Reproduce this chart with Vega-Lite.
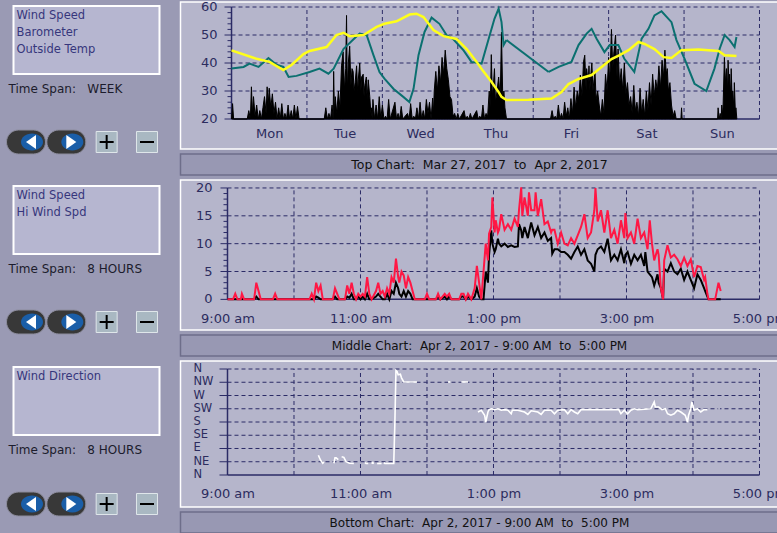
{
"$schema": "https://vega.github.io/schema/vega-lite/v6.json",
"background": "#9a9ab4",
"padding": {"left": 4.5, "top": 0, "right": 0, "bottom": 0},
"config": {
  "view": {"stroke": null},
  "font": "DejaVu Sans",
  "axis": {"labelFont": "DejaVu Sans", "labelColor": "#2c2c5e", "labelFontSize": 13, "title": null, "domain": false, "grid": false, "tickColor": "#2b2b66", "labelFlush": false, "labelOverlap": false, "labelBound": false, "zindex": 1}
},
"datasets": {
"wk_wind": [
{"t":"2017-03-27T00:00","w":20},{"t":"2017-03-27T00:20","w":25.5},{"t":"2017-03-27T00:40","w":20},{"t":"2017-03-27T05:00","w":20},{"t":"2017-03-27T05:30","w":23},{"t":"2017-03-27T06:00","w":20},{"t":"2017-03-27T06:20","w":31.5},{"t":"2017-03-27T06:40","w":22},{"t":"2017-03-27T07:00","w":28},{"t":"2017-03-27T07:30","w":21},{"t":"2017-03-27T08:00","w":25},{"t":"2017-03-27T08:30","w":20},{"t":"2017-03-27T09:00","w":23},{"t":"2017-03-27T09:30","w":20},{"t":"2017-03-27T10:00","w":24},{"t":"2017-03-27T10:30","w":28},{"t":"2017-03-27T11:00","w":22},{"t":"2017-03-27T11:20","w":31.5},{"t":"2017-03-27T11:40","w":25},{"t":"2017-03-27T12:00","w":31},{"t":"2017-03-27T12:30","w":24},{"t":"2017-03-27T13:00","w":29},{"t":"2017-03-27T13:30","w":22},{"t":"2017-03-27T14:00","w":26},{"t":"2017-03-27T14:30","w":20},{"t":"2017-03-27T15:00","w":24},{"t":"2017-03-27T15:30","w":20},{"t":"2017-03-27T16:00","w":25.5},{"t":"2017-03-27T16:30","w":20},{"t":"2017-03-27T17:00","w":22},{"t":"2017-03-27T17:30","w":20},{"t":"2017-03-27T18:00","w":25},{"t":"2017-03-27T18:30","w":20},{"t":"2017-03-27T19:00","w":23},{"t":"2017-03-27T19:30","w":20},{"t":"2017-03-27T20:00","w":25},{"t":"2017-03-27T20:30","w":20},{"t":"2017-03-27T21:00","w":24.5},{"t":"2017-03-27T21:30","w":20},
{"t":"2017-03-28T05:30","w":20},{"t":"2017-03-28T06:00","w":24},{"t":"2017-03-28T06:30","w":20},{"t":"2017-03-28T07:00","w":22},{"t":"2017-03-28T07:30","w":20},{"t":"2017-03-28T08:00","w":25},{"t":"2017-03-28T08:20","w":20},{"t":"2017-03-28T08:30","w":37},{"t":"2017-03-28T08:45","w":22},{"t":"2017-03-28T09:00","w":28},{"t":"2017-03-28T09:30","w":22},{"t":"2017-03-28T10:00","w":30},{"t":"2017-03-28T10:30","w":24},{"t":"2017-03-28T11:00","w":39},{"t":"2017-03-28T11:30","w":44},{"t":"2017-03-28T12:00","w":30},{"t":"2017-03-28T12:20","w":38},{"t":"2017-03-28T12:36","w":57},{"t":"2017-03-28T12:50","w":30},{"t":"2017-03-28T13:10","w":40},{"t":"2017-03-28T13:36","w":46},{"t":"2017-03-28T14:00","w":32},{"t":"2017-03-28T14:20","w":38},{"t":"2017-03-28T14:42","w":37},{"t":"2017-03-28T15:00","w":30},{"t":"2017-03-28T15:20","w":33},{"t":"2017-03-28T15:48","w":39},{"t":"2017-03-28T16:10","w":29},{"t":"2017-03-28T16:20","w":34},{"t":"2017-03-28T16:48","w":40},{"t":"2017-03-28T17:10","w":30},{"t":"2017-03-28T17:24","w":35},{"t":"2017-03-28T17:54","w":36},{"t":"2017-03-28T18:10","w":28},{"t":"2017-03-28T18:24","w":32},{"t":"2017-03-28T18:54","w":35},{"t":"2017-03-28T19:10","w":27},{"t":"2017-03-28T19:30","w":34},{"t":"2017-03-28T20:00","w":28},{"t":"2017-03-28T20:20","w":22},{"t":"2017-03-28T20:30","w":24},{"t":"2017-03-28T20:45","w":20},{"t":"2017-03-28T21:00","w":27},{"t":"2017-03-28T21:30","w":20},{"t":"2017-03-28T22:00","w":25},{"t":"2017-03-28T22:30","w":20},{"t":"2017-03-28T23:00","w":28},{"t":"2017-03-28T23:30","w":20},
{"t":"2017-03-29T00:00","w":25},{"t":"2017-03-29T00:30","w":20},{"t":"2017-03-29T01:00","w":21},{"t":"2017-03-29T01:30","w":20},{"t":"2017-03-29T02:00","w":27},{"t":"2017-03-29T02:30","w":20},{"t":"2017-03-29T04:00","w":26},{"t":"2017-03-29T04:30","w":20},{"t":"2017-03-29T05:00","w":22},{"t":"2017-03-29T05:30","w":20},{"t":"2017-03-29T06:00","w":24.5},{"t":"2017-03-29T06:30","w":20},{"t":"2017-03-29T08:00","w":22},{"t":"2017-03-29T08:30","w":20},{"t":"2017-03-29T09:00","w":25.5},{"t":"2017-03-29T09:30","w":20},{"t":"2017-03-29T10:00","w":21},{"t":"2017-03-29T10:30","w":20},{"t":"2017-03-29T11:00","w":24},{"t":"2017-03-29T11:30","w":20},{"t":"2017-03-29T12:00","w":26},{"t":"2017-03-29T12:30","w":20},{"t":"2017-03-29T13:00","w":23},{"t":"2017-03-29T13:30","w":20},{"t":"2017-03-29T14:00","w":27},{"t":"2017-03-29T14:30","w":22},{"t":"2017-03-29T15:00","w":26},{"t":"2017-03-29T15:30","w":20},{"t":"2017-03-29T16:00","w":27.5},{"t":"2017-03-29T16:15","w":22},{"t":"2017-03-29T16:30","w":30},{"t":"2017-03-29T17:00","w":37},{"t":"2017-03-29T17:30","w":30},{"t":"2017-03-29T18:00","w":39},{"t":"2017-03-29T18:30","w":33},{"t":"2017-03-29T19:00","w":42},{"t":"2017-03-29T19:30","w":36},{"t":"2017-03-29T20:00","w":44.6},{"t":"2017-03-29T20:30","w":38},{"t":"2017-03-29T21:00","w":34},{"t":"2017-03-29T21:30","w":28},{"t":"2017-03-29T22:00","w":27},{"t":"2017-03-29T22:30","w":21},{"t":"2017-03-29T23:00","w":22},{"t":"2017-03-29T23:30","w":20},
{"t":"2017-03-30T00:00","w":22},{"t":"2017-03-30T00:30","w":20},{"t":"2017-03-30T02:00","w":23},{"t":"2017-03-30T02:30","w":20},{"t":"2017-03-30T03:00","w":21},{"t":"2017-03-30T03:30","w":20},{"t":"2017-03-30T04:00","w":22},{"t":"2017-03-30T04:30","w":20},{"t":"2017-03-30T06:00","w":23},{"t":"2017-03-30T06:30","w":20},{"t":"2017-03-30T07:00","w":21},{"t":"2017-03-30T07:30","w":20},{"t":"2017-03-30T08:00","w":25},{"t":"2017-03-30T08:30","w":20},{"t":"2017-03-30T09:00","w":22},{"t":"2017-03-30T09:30","w":21},{"t":"2017-03-30T10:00","w":30},{"t":"2017-03-30T10:20","w":24},{"t":"2017-03-30T10:40","w":43},{"t":"2017-03-30T11:00","w":28},{"t":"2017-03-30T11:20","w":32},{"t":"2017-03-30T11:40","w":38},{"t":"2017-03-30T12:00","w":26},{"t":"2017-03-30T12:30","w":30},{"t":"2017-03-30T13:00","w":35},{"t":"2017-03-30T13:30","w":27},{"t":"2017-03-30T13:54","w":51},{"t":"2017-03-30T14:20","w":26},{"t":"2017-03-30T14:40","w":30},{"t":"2017-03-30T15:00","w":24},{"t":"2017-03-30T15:30","w":20},
{"t":"2017-03-31T05:30","w":20},{"t":"2017-03-31T06:00","w":23},{"t":"2017-03-31T06:30","w":20},{"t":"2017-03-31T07:00","w":21},{"t":"2017-03-31T07:30","w":20},{"t":"2017-03-31T08:00","w":25},{"t":"2017-03-31T08:30","w":20},{"t":"2017-03-31T09:00","w":22},{"t":"2017-03-31T09:30","w":20},{"t":"2017-03-31T10:00","w":26},{"t":"2017-03-31T10:30","w":21},{"t":"2017-03-31T11:00","w":24},{"t":"2017-03-31T11:30","w":20},{"t":"2017-03-31T12:00","w":27.3},{"t":"2017-03-31T12:30","w":22},{"t":"2017-03-31T13:00","w":31.4},{"t":"2017-03-31T13:30","w":24},{"t":"2017-03-31T14:00","w":30},{"t":"2017-03-31T14:30","w":27},{"t":"2017-03-31T15:00","w":35.7},{"t":"2017-03-31T15:30","w":28},{"t":"2017-03-31T16:00","w":40.4},{"t":"2017-03-31T16:24","w":42.8},{"t":"2017-03-31T16:50","w":30},{"t":"2017-03-31T17:00","w":38},{"t":"2017-03-31T17:30","w":33},{"t":"2017-03-31T17:45","w":39},{"t":"2017-03-31T18:00","w":30},{"t":"2017-03-31T18:20","w":36},{"t":"2017-03-31T18:40","w":40},{"t":"2017-03-31T19:00","w":30},{"t":"2017-03-31T19:20","w":34},{"t":"2017-03-31T19:40","w":37},{"t":"2017-03-31T20:00","w":27},{"t":"2017-03-31T20:30","w":30},{"t":"2017-03-31T21:00","w":25},{"t":"2017-03-31T21:30","w":21},{"t":"2017-03-31T22:00","w":27},{"t":"2017-03-31T22:30","w":22},{"t":"2017-03-31T23:00","w":36},{"t":"2017-03-31T23:30","w":30},
{"t":"2017-04-01T00:00","w":42},{"t":"2017-04-01T00:20","w":33},{"t":"2017-04-01T00:54","w":52},{"t":"2017-04-01T01:20","w":38},{"t":"2017-04-01T01:40","w":44},{"t":"2017-04-01T02:12","w":50},{"t":"2017-04-01T02:40","w":35},{"t":"2017-04-01T03:00","w":45},{"t":"2017-04-01T03:30","w":32},{"t":"2017-04-01T04:00","w":38},{"t":"2017-04-01T04:30","w":30},{"t":"2017-04-01T05:00","w":40},{"t":"2017-04-01T05:30","w":29},{"t":"2017-04-01T06:00","w":33},{"t":"2017-04-01T06:30","w":25},{"t":"2017-04-01T07:00","w":28},{"t":"2017-04-01T07:30","w":22},{"t":"2017-04-01T08:00","w":32},{"t":"2017-04-01T08:30","w":23},{"t":"2017-04-01T09:00","w":26},{"t":"2017-04-01T09:30","w":21},{"t":"2017-04-01T10:00","w":31},{"t":"2017-04-01T10:30","w":22},{"t":"2017-04-01T11:00","w":27},{"t":"2017-04-01T11:30","w":21},{"t":"2017-04-01T12:00","w":30},{"t":"2017-04-01T12:30","w":23},{"t":"2017-04-01T13:00","w":33},{"t":"2017-04-01T13:30","w":25},{"t":"2017-04-01T14:00","w":36},{"t":"2017-04-01T14:30","w":28},{"t":"2017-04-01T15:00","w":34},{"t":"2017-04-01T15:30","w":30},{"t":"2017-04-01T16:00","w":39},{"t":"2017-04-01T16:30","w":31},{"t":"2017-04-01T17:00","w":41},{"t":"2017-04-01T17:30","w":35},{"t":"2017-04-01T17:54","w":44.6},{"t":"2017-04-01T18:20","w":36},{"t":"2017-04-01T18:40","w":38},{"t":"2017-04-01T19:00","w":30},{"t":"2017-04-01T19:30","w":33},{"t":"2017-04-01T20:00","w":25},{"t":"2017-04-01T20:30","w":21},{"t":"2017-04-01T21:00","w":23},{"t":"2017-04-01T21:30","w":20},{"t":"2017-04-01T23:00","w":20},{"t":"2017-04-01T23:12","w":24},{"t":"2017-04-01T23:24","w":20},
{"t":"2017-04-02T10:40","w":20},{"t":"2017-04-02T10:50","w":24},{"t":"2017-04-02T11:10","w":20},{"t":"2017-04-02T11:30","w":22},{"t":"2017-04-02T11:50","w":20},{"t":"2017-04-02T12:00","w":25},{"t":"2017-04-02T12:20","w":21},{"t":"2017-04-02T12:50","w":42},{"t":"2017-04-02T13:10","w":33},{"t":"2017-04-02T13:30","w":38},{"t":"2017-04-02T13:50","w":30},{"t":"2017-04-02T14:00","w":41},{"t":"2017-04-02T14:20","w":32},{"t":"2017-04-02T14:30","w":36},{"t":"2017-04-02T14:50","w":28},{"t":"2017-04-02T15:00","w":38},{"t":"2017-04-02T15:20","w":26},{"t":"2017-04-02T15:30","w":30},{"t":"2017-04-02T15:50","w":24},{"t":"2017-04-02T16:00","w":33},{"t":"2017-04-02T16:20","w":22},{"t":"2017-04-02T16:30","w":24},{"t":"2017-04-02T16:48","w":20}
],
"wk_temp": [
{"t":"2017-03-27T00:00","v":44.5},{"t":"2017-03-27T08:00","v":41.5},{"t":"2017-03-27T12:05","v":40.4},{"t":"2017-03-27T16:30","v":37.5},{"t":"2017-03-27T19:05","v":39.3},{"t":"2017-03-27T22:55","v":43.2},{"t":"2017-03-28T00:50","v":44.3},{"t":"2017-03-28T06:15","v":45.7},{"t":"2017-03-28T09:25","v":50},{"t":"2017-03-28T11:40","v":50.8},{"t":"2017-03-28T13:30","v":49.6},{"t":"2017-03-28T18:00","v":50},{"t":"2017-03-28T22:10","v":52.9},{"t":"2017-03-29T00:40","v":54},{"t":"2017-03-29T04:30","v":54.9},{"t":"2017-03-29T08:40","v":57.3},{"t":"2017-03-29T10:50","v":57.6},{"t":"2017-03-29T13:05","v":56.4},{"t":"2017-03-29T16:15","v":51.8},{"t":"2017-03-29T19:30","v":49.6},{"t":"2017-03-29T23:35","v":48.6},{"t":"2017-03-30T02:50","v":45},{"t":"2017-03-30T06:00","v":40.4},{"t":"2017-03-30T07:35","v":37.9},{"t":"2017-03-30T10:45","v":33.2},{"t":"2017-03-30T13:00","v":29.6},{"t":"2017-03-30T13:55","v":27.9},{"t":"2017-03-30T15:30","v":26.8},{"t":"2017-03-30T22:30","v":26.9},{"t":"2017-03-31T05:50","v":27.3},{"t":"2017-03-31T09:00","v":29.6},{"t":"2017-03-31T11:15","v":32.5},{"t":"2017-03-31T14:25","v":34.3},{"t":"2017-03-31T18:35","v":35.7},{"t":"2017-03-31T21:45","v":38.6},{"t":"2017-04-01T00:55","v":41.4},{"t":"2017-04-01T03:30","v":42.8},{"t":"2017-04-01T06:20","v":44.6},{"t":"2017-04-01T09:30","v":47.5},{"t":"2017-04-01T11:25","v":46.8},{"t":"2017-04-01T14:35","v":45},{"t":"2017-04-01T17:30","v":42.1},{"t":"2017-04-01T20:00","v":41.8},{"t":"2017-04-01T23:10","v":44.6},{"t":"2017-04-02T04:35","v":44.8},{"t":"2017-04-02T11:00","v":44.3},{"t":"2017-04-02T12:55","v":42.8},{"t":"2017-04-02T16:40","v":42.5}
],
"wk_baro": [
{"t":"2017-03-27T00:00","v":38,"s":"a"},{"t":"2017-03-27T03:50","v":38.6,"s":"a"},{"t":"2017-03-27T05:45","v":39.8,"s":"a"},{"t":"2017-03-27T08:35","v":38.6,"s":"a"},{"t":"2017-03-27T11:45","v":41.8,"s":"a"},{"t":"2017-03-27T14:20","v":39.4,"s":"a"},{"t":"2017-03-27T16:30","v":38.6,"s":"a"},{"t":"2017-03-27T18:10","v":35,"s":"a"},{"t":"2017-03-27T20:40","v":35.4,"s":"a"},{"t":"2017-03-28T00:50","v":36.8,"s":"a"},{"t":"2017-03-28T04:00","v":38,"s":"a"},{"t":"2017-03-28T06:50","v":36.2,"s":"a"},{"t":"2017-03-28T08:30","v":38,"s":"a"},{"t":"2017-03-28T11:40","v":45.1,"s":"a"},{"t":"2017-03-28T14:50","v":48.5,"s":"a"},{"t":"2017-03-28T16:45","v":50.5,"s":"a"},{"t":"2017-03-28T19:00","v":50,"s":"a"},{"t":"2017-03-28T21:10","v":42.8,"s":"a"},{"t":"2017-03-28T23:05","v":36.8,"s":"a"},{"t":"2017-03-29T00:40","v":34.4,"s":"a"},{"t":"2017-03-29T03:30","v":30.8,"s":"a"},{"t":"2017-03-29T06:40","v":27.9,"s":"a"},{"t":"2017-03-29T08:35","v":26.1,"s":"a"},{"t":"2017-03-29T09:55","v":30.8,"s":"a"},{"t":"2017-03-29T11:30","v":42.8,"s":"a"},{"t":"2017-03-29T13:25","v":51.1,"s":"a"},{"t":"2017-03-29T15:40","v":56.2,"s":"a"},{"t":"2017-03-29T18:10","v":54,"s":"a"},{"t":"2017-03-29T20:25","v":50,"s":"a"},{"t":"2017-03-29T22:35","v":48.5,"s":"a"},{"t":"2017-03-30T01:50","v":44.5,"s":"a"},{"t":"2017-03-30T04:20","v":40.4,"s":"a"},{"t":"2017-03-30T07:35","v":39.8,"s":"a"},{"t":"2017-03-30T09:50","v":48.7,"s":"a"},{"t":"2017-03-30T11:40","v":55.8,"s":"a"},{"t":"2017-03-30T13:00","v":59.4,"s":"a"},{"t":"2017-03-30T13:55","v":54.6,"s":"a"},{"t":"2017-03-30T14:35","v":46.4,"s":"a"},{"t":"2017-03-30T15:30","v":48.2,"s":"a"},
{"t":"2017-03-30T15:30","v":48.2,"s":"gap"},{"t":"2017-03-31T04:55","v":36.8,"s":"gap"},
{"t":"2017-03-31T04:55","v":36.8,"s":"b"},{"t":"2017-03-31T08:05","v":38.6,"s":"b"},{"t":"2017-03-31T12:10","v":40.4,"s":"b"},{"t":"2017-03-31T14:25","v":46.4,"s":"b"},{"t":"2017-03-31T17:00","v":50.5,"s":"b"},{"t":"2017-03-31T18:35","v":52.2,"s":"b"},{"t":"2017-03-31T20:10","v":48.7,"s":"b"},{"t":"2017-03-31T22:40","v":43.9,"s":"b"},{"t":"2017-04-01T00:20","v":46.4,"s":"b"},{"t":"2017-04-01T03:05","v":46.4,"s":"b"},{"t":"2017-04-01T05:00","v":41.5,"s":"b"},{"t":"2017-04-01T08:10","v":36.8,"s":"b"},{"t":"2017-04-01T10:30","v":48.7,"s":"b"},{"t":"2017-04-01T12:40","v":52.2,"s":"b"},{"t":"2017-04-01T14:35","v":57,"s":"b"},{"t":"2017-04-01T16:50","v":58.5,"s":"b"},{"t":"2017-04-01T20:00","v":54.6,"s":"b"},{"t":"2017-04-01T21:35","v":48.2,"s":"b"},{"t":"2017-04-02T00:10","v":41.5,"s":"b"},{"t":"2017-04-02T03:20","v":32.6,"s":"b"},{"t":"2017-04-02T07:05","v":30,"s":"b"},{"t":"2017-04-02T09:40","v":38,"s":"b"},{"t":"2017-04-02T11:20","v":45.1,"s":"b"},{"t":"2017-04-02T12:55","v":50,"s":"b"},{"t":"2017-04-02T14:30","v":48.2,"s":"b"},{"t":"2017-04-02T16:05","v":45.7,"s":"b"},{"t":"2017-04-02T16:40","v":49.3,"s":"b"}
],
"day": [
{"t":"2017-04-02T09:00","w":0,"h":0},{"t":"2017-04-02T09:05","w":0,"h":0},{"t":"2017-04-02T09:07","w":0,"h":1},{"t":"2017-04-02T09:09","w":0,"h":0},{"t":"2017-04-02T09:12","w":0,"h":0},{"t":"2017-04-02T09:13","w":0,"h":1},{"t":"2017-04-02T09:15","w":0,"h":0},{"t":"2017-04-02T09:24","w":0,"h":0},{"t":"2017-04-02T09:26","w":0.5,"h":3},{"t":"2017-04-02T09:28","w":0,"h":1.5},{"t":"2017-04-02T09:30","w":0,"h":0},{"t":"2017-04-02T09:41","w":0,"h":0},{"t":"2017-04-02T09:43","w":0,"h":1},{"t":"2017-04-02T09:45","w":0,"h":0},{"t":"2017-04-02T10:14","w":0,"h":0},{"t":"2017-04-02T10:16","w":0,"h":1},{"t":"2017-04-02T10:18","w":0,"h":0},{"t":"2017-04-02T10:20","w":0.5,"h":3},{"t":"2017-04-02T10:22","w":0.3,"h":1.5},{"t":"2017-04-02T10:24","w":0,"h":2.5},{"t":"2017-04-02T10:26","w":0,"h":0},{"t":"2017-04-02T10:35","w":0,"h":0},{"t":"2017-04-02T10:37","w":0.5,"h":2},{"t":"2017-04-02T10:39","w":0,"h":1},{"t":"2017-04-02T10:41","w":0,"h":0},{"t":"2017-04-02T10:46","w":0,"h":0},{"t":"2017-04-02T10:48","w":0.5,"h":2.5},{"t":"2017-04-02T10:50","w":0.3,"h":1},{"t":"2017-04-02T10:52","w":1,"h":3},{"t":"2017-04-02T10:54","w":0,"h":1},{"t":"2017-04-02T10:56","w":0,"h":0},{"t":"2017-04-02T10:58","w":0.5,"h":1},{"t":"2017-04-02T11:00","w":0,"h":0.5},{"t":"2017-04-02T11:02","w":0.5,"h":1},{"t":"2017-04-02T11:04","w":0,"h":0.5},{"t":"2017-04-02T11:06","w":1,"h":4},{"t":"2017-04-02T11:08","w":0,"h":1},{"t":"2017-04-02T11:10","w":0,"h":0},{"t":"2017-04-02T11:14","w":0.5,"h":1.5},{"t":"2017-04-02T11:16","w":1,"h":3},{"t":"2017-04-02T11:18","w":0.5,"h":1},{"t":"2017-04-02T11:20","w":0,"h":1.5},{"t":"2017-04-02T11:22","w":0,"h":0.5},{"t":"2017-04-02T11:24","w":1,"h":2},{"t":"2017-04-02T11:26","w":0,"h":1},{"t":"2017-04-02T11:28","w":1.5,"h":4},{"t":"2017-04-02T11:30","w":1,"h":3},{"t":"2017-04-02T11:32","w":3,"h":7.3},{"t":"2017-04-02T11:34","w":2,"h":4},{"t":"2017-04-02T11:35","w":1,"h":3},{"t":"2017-04-02T11:37","w":0.5,"h":5},{"t":"2017-04-02T11:39","w":1.5,"h":4.3},{"t":"2017-04-02T11:41","w":0.5,"h":2},{"t":"2017-04-02T11:43","w":1.5,"h":4},{"t":"2017-04-02T11:45","w":1,"h":3},{"t":"2017-04-02T11:47","w":0,"h":1.5},{"t":"2017-04-02T11:49","w":0,"h":0},{"t":"2017-04-02T11:58","w":0,"h":0},{"t":"2017-04-02T12:00","w":0,"h":1},{"t":"2017-04-02T12:02","w":0,"h":0},{"t":"2017-04-02T12:08","w":0,"h":0},{"t":"2017-04-02T12:10","w":0.5,"h":1},{"t":"2017-04-02T12:12","w":0,"h":0},{"t":"2017-04-02T12:16","w":0.5,"h":1},{"t":"2017-04-02T12:18","w":0,"h":0.5},{"t":"2017-04-02T12:20","w":0.5,"h":1},{"t":"2017-04-02T12:22","w":0,"h":0},{"t":"2017-04-02T12:29","w":0,"h":0},{"t":"2017-04-02T12:31","w":0.5,"h":1},{"t":"2017-04-02T12:33","w":0.5,"h":1},{"t":"2017-04-02T12:35","w":0,"h":0},{"t":"2017-04-02T12:37","w":0.5,"h":1},{"t":"2017-04-02T12:40","w":0,"h":0},{"t":"2017-04-02T12:43","w":0.5,"h":2},{"t":"2017-04-02T12:45","w":2,"h":6},{"t":"2017-04-02T12:47","w":0.5,"h":3},{"t":"2017-04-02T12:49","w":0,"h":0},{"t":"2017-04-02T12:51","w":0,"h":5},{"t":"2017-04-02T12:53","w":5,"h":10},{"t":"2017-04-02T12:55","w":3,"h":7},{"t":"2017-04-02T12:56","w":8,"h":11.8},{"t":"2017-04-02T12:58","w":12.4,"h":13},{"t":"2017-04-02T12:59","w":10,"h":18.3},{"t":"2017-04-02T13:01","w":8.5,"h":12},{"t":"2017-04-02T13:02","w":9,"h":14.2},{"t":"2017-04-02T13:04","w":10.9,"h":12},{"t":"2017-04-02T13:05","w":10,"h":12.5},{"t":"2017-04-02T13:07","w":9.5,"h":15.3},{"t":"2017-04-02T13:10","w":10,"h":12.5},{"t":"2017-04-02T13:13","w":9.4,"h":13.5},{"t":"2017-04-02T13:16","w":9.7,"h":12.5},{"t":"2017-04-02T13:19","w":9.4,"h":14.5},{"t":"2017-04-02T13:22","w":9.5,"h":13},{"t":"2017-04-02T13:23","w":13.5,"h":16},{"t":"2017-04-02T13:25","w":12.4,"h":20.1},{"t":"2017-04-02T13:26","w":11,"h":15},{"t":"2017-04-02T13:28","w":13,"h":18.3},{"t":"2017-04-02T13:31","w":11,"h":15},{"t":"2017-04-02T13:32","w":12,"h":19.2},{"t":"2017-04-02T13:34","w":13.8,"h":16},{"t":"2017-04-02T13:37","w":11.5,"h":16},{"t":"2017-04-02T13:38","w":12,"h":19.2},{"t":"2017-04-02T13:40","w":13,"h":15},{"t":"2017-04-02T13:43","w":11,"h":18},{"t":"2017-04-02T13:46","w":12,"h":13.5},{"t":"2017-04-02T13:49","w":10.5,"h":14},{"t":"2017-04-02T13:52","w":11,"h":12},{"t":"2017-04-02T13:53","w":8.2,"h":12.5},{"t":"2017-04-02T13:55","w":9,"h":12.5},{"t":"2017-04-02T13:58","w":9,"h":10},{"t":"2017-04-02T14:01","w":8.5,"h":12},{"t":"2017-04-02T14:04","w":8.5,"h":10},{"t":"2017-04-02T14:07","w":8,"h":9.7},{"t":"2017-04-02T14:10","w":7.3,"h":11},{"t":"2017-04-02T14:13","w":8.5,"h":10},{"t":"2017-04-02T14:16","w":9.5,"h":11.5},{"t":"2017-04-02T14:19","w":8,"h":13},{"t":"2017-04-02T14:22","w":9,"h":15.3},{"t":"2017-04-02T14:25","w":7,"h":11},{"t":"2017-04-02T14:28","w":6.4,"h":12},{"t":"2017-04-02T14:31","w":5,"h":16},{"t":"2017-04-02T14:32","w":8,"h":20},{"t":"2017-04-02T14:34","w":9,"h":14},{"t":"2017-04-02T14:37","w":9.5,"h":16},{"t":"2017-04-02T14:40","w":8.5,"h":12},{"t":"2017-04-02T14:43","w":10.9,"h":16},{"t":"2017-04-02T14:46","w":7,"h":11},{"t":"2017-04-02T14:49","w":8,"h":12.5},{"t":"2017-04-02T14:52","w":7,"h":10},{"t":"2017-04-02T14:55","w":9,"h":14.2},{"t":"2017-04-02T14:58","w":6.5,"h":11},{"t":"2017-04-02T14:59","w":8,"h":15.5},{"t":"2017-04-02T15:01","w":8.5,"h":11},{"t":"2017-04-02T15:04","w":6.4,"h":12},{"t":"2017-04-02T15:07","w":8,"h":10},{"t":"2017-04-02T15:10","w":7,"h":14.5},{"t":"2017-04-02T15:13","w":8,"h":11},{"t":"2017-04-02T15:16","w":6,"h":12},{"t":"2017-04-02T15:17","w":8.5,"h":11},{"t":"2017-04-02T15:19","w":5,"h":9},{"t":"2017-04-02T15:21","w":4.5,"h":14.2},{"t":"2017-04-02T15:23","w":4,"h":10},{"t":"2017-04-02T15:25","w":2.5,"h":7},{"t":"2017-04-02T15:28","w":4.5,"h":9},{"t":"2017-04-02T15:29","w":3,"h":8},{"t":"2017-04-02T15:31","w":2,"h":2},{"t":"2017-04-02T15:33","w":0,"h":0},{"t":"2017-04-02T15:34","w":5.5,"h":7},{"t":"2017-04-02T15:37","w":5,"h":9.7},{"t":"2017-04-02T15:40","w":6.5,"h":7.5},{"t":"2017-04-02T15:43","w":5,"h":8},{"t":"2017-04-02T15:46","w":4.5,"h":7.2},{"t":"2017-04-02T15:49","w":5.5,"h":6},{"t":"2017-04-02T15:52","w":3.5,"h":7.5},{"t":"2017-04-02T15:55","w":5,"h":6},{"t":"2017-04-02T15:58","w":3.5,"h":7.2},{"t":"2017-04-02T16:01","w":2,"h":4},{"t":"2017-04-02T16:04","w":4.5,"h":6},{"t":"2017-04-02T16:07","w":3.5,"h":5.8},{"t":"2017-04-02T16:10","w":2,"h":3.5},{"t":"2017-04-02T16:11","w":1.5,"h":4},{"t":"2017-04-02T16:13","w":0.5,"h":1},{"t":"2017-04-02T16:14","w":0,"h":0},{"t":"2017-04-02T16:20","w":0,"h":0},{"t":"2017-04-02T16:23","w":0,"h":3},{"t":"2017-04-02T16:25","w":0,"h":1.5}
],
"dir": [
{"t":"2017-04-02T10:22","d":67,"s":"A"},{"t":"2017-04-02T10:24","d":50,"s":"A"},{"t":"2017-04-02T10:26","d":40,"s":"A"},{"t":"2017-04-02T10:27","d":44,"s":"A"},
{"t":"2017-04-02T10:36","d":40,"s":"B"},{"t":"2017-04-02T10:37","d":58,"s":"B"},{"t":"2017-04-02T10:38","d":58,"s":"B"},{"t":"2017-04-02T10:40","d":52,"s":"B"},
{"t":"2017-04-02T10:43","d":62,"s":"C"},{"t":"2017-04-02T10:45","d":60,"s":"C"},{"t":"2017-04-02T10:47","d":45,"s":"C"},{"t":"2017-04-02T10:50","d":40,"s":"C"},{"t":"2017-04-02T10:54","d":39,"s":"C"},
{"t":"2017-04-02T11:04","d":42,"s":"D1"},{"t":"2017-04-02T11:05","d":39,"s":"D1"},{"t":"2017-04-02T11:07","d":39,"s":"D1"},
{"t":"2017-04-02T11:10","d":39,"s":"D2"},{"t":"2017-04-02T11:11","d":42,"s":"D2"},{"t":"2017-04-02T11:12","d":39,"s":"D2"},
{"t":"2017-04-02T11:15","d":39,"s":"D3"},{"t":"2017-04-02T11:19","d":39,"s":"D3"},
{"t":"2017-04-02T11:21","d":42,"s":"D4"},{"t":"2017-04-02T11:22","d":39,"s":"D4"},{"t":"2017-04-02T11:30","d":39,"s":"D4"},{"t":"2017-04-02T11:31","d":175,"s":"D4"},{"t":"2017-04-02T11:32","d":355,"s":"D4"},{"t":"2017-04-02T11:33","d":352,"s":"D4"},{"t":"2017-04-02T11:34","d":340,"s":"D4"},{"t":"2017-04-02T11:36","d":342,"s":"D4"},{"t":"2017-04-02T11:37","d":330,"s":"D4"},{"t":"2017-04-02T11:39","d":316,"s":"D4"},{"t":"2017-04-02T11:45","d":316,"s":"D4"},{"t":"2017-04-02T11:51","d":316,"s":"D4"},
{"t":"2017-04-02T12:19","d":316,"s":"E"},{"t":"2017-04-02T12:21","d":316,"s":"E"},
{"t":"2017-04-02T12:31","d":316,"s":"F"},{"t":"2017-04-02T12:37","d":316,"s":"F"},
{"t":"2017-04-02T12:46","d":214,"s":"G"},{"t":"2017-04-02T12:49","d":220,"s":"G"},{"t":"2017-04-02T12:52","d":203,"s":"G"},{"t":"2017-04-02T12:53","d":180,"s":"G"},{"t":"2017-04-02T12:55","d":214,"s":"G"},{"t":"2017-04-02T12:56","d":222,"s":"G"},{"t":"2017-04-02T12:58","d":225,"s":"G"},{"t":"2017-04-02T13:01","d":222,"s":"G"},{"t":"2017-04-02T13:04","d":225,"s":"G"},{"t":"2017-04-02T13:07","d":220,"s":"G"},{"t":"2017-04-02T13:10","d":222,"s":"G"},{"t":"2017-04-02T13:13","d":220,"s":"G"},{"t":"2017-04-02T13:16","d":208,"s":"G"},{"t":"2017-04-02T13:17","d":220,"s":"G"},{"t":"2017-04-02T13:22","d":220,"s":"G"},{"t":"2017-04-02T13:28","d":214,"s":"G"},{"t":"2017-04-02T13:31","d":206,"s":"G"},{"t":"2017-04-02T13:34","d":218,"s":"G"},{"t":"2017-04-02T13:40","d":214,"s":"G"},{"t":"2017-04-02T13:43","d":206,"s":"G"},{"t":"2017-04-02T13:46","d":220,"s":"G"},{"t":"2017-04-02T13:52","d":220,"s":"G"},{"t":"2017-04-02T13:55","d":208,"s":"G"},{"t":"2017-04-02T13:58","d":220,"s":"G"},{"t":"2017-04-02T14:04","d":222,"s":"G"},{"t":"2017-04-02T14:07","d":208,"s":"G"},{"t":"2017-04-02T14:10","d":222,"s":"G"},{"t":"2017-04-02T14:13","d":214,"s":"G"},{"t":"2017-04-02T14:16","d":208,"s":"G"},{"t":"2017-04-02T14:19","d":222,"s":"G"},{"t":"2017-04-02T14:22","d":222,"s":"G"},{"t":"2017-04-02T14:53","d":222,"s":"G"},{"t":"2017-04-02T14:55","d":208,"s":"G"},{"t":"2017-04-02T14:58","d":220,"s":"G"},{"t":"2017-04-02T15:01","d":208,"s":"G"},{"t":"2017-04-02T15:04","d":220,"s":"G"},{"t":"2017-04-02T15:07","d":225,"s":"G"},{"t":"2017-04-02T15:10","d":222,"s":"G"},{"t":"2017-04-02T15:22","d":225,"s":"G"},{"t":"2017-04-02T15:25","d":248,"s":"G"},{"t":"2017-04-02T15:26","d":231,"s":"G"},{"t":"2017-04-02T15:29","d":231,"s":"G"},{"t":"2017-04-02T15:32","d":222,"s":"G"},{"t":"2017-04-02T15:35","d":225,"s":"G"},{"t":"2017-04-02T15:37","d":208,"s":"G"},{"t":"2017-04-02T15:40","d":203,"s":"G"},{"t":"2017-04-02T15:43","d":208,"s":"G"},{"t":"2017-04-02T15:46","d":220,"s":"G"},{"t":"2017-04-02T15:49","d":214,"s":"G"},{"t":"2017-04-02T15:53","d":203,"s":"G"},{"t":"2017-04-02T15:55","d":180,"s":"G"},{"t":"2017-04-02T15:56","d":203,"s":"G"},{"t":"2017-04-02T15:58","d":225,"s":"G"},{"t":"2017-04-02T15:59","d":248,"s":"G"},{"t":"2017-04-02T16:01","d":220,"s":"G"},{"t":"2017-04-02T16:04","d":225,"s":"G"},{"t":"2017-04-02T16:07","d":214,"s":"G"},{"t":"2017-04-02T16:10","d":222,"s":"G"},{"t":"2017-04-02T16:13","d":222,"s":"G"},
{"t":"2017-04-02T16:23","d":225,"s":"H"},{"t":"2017-04-02T16:24","d":225,"s":"H"}
],
"buttons": [{"b":"prev","kind":"arrow"},{"b":"next","kind":"arrow"},{"b":"plus","kind":"box"},{"b":"minus","kind":"box"}],
"top_ticks": [{"v":20,"m":1},{"v":22,"m":0},{"v":24,"m":0},{"v":26,"m":0},{"v":28,"m":0},{"v":30,"m":1},{"v":32,"m":0},{"v":34,"m":0},{"v":36,"m":0},{"v":38,"m":0},{"v":40,"m":1},{"v":42,"m":0},{"v":44,"m":0},{"v":46,"m":0},{"v":48,"m":0},{"v":50,"m":1},{"v":52,"m":0},{"v":54,"m":0},{"v":56,"m":0},{"v":58,"m":0},{"v":60,"m":1}],
"mid_ticks": [{"v":0,"m":1},{"v":1,"m":0},{"v":2,"m":0},{"v":3,"m":0},{"v":4,"m":0},{"v":5,"m":1},{"v":6,"m":0},{"v":7,"m":0},{"v":8,"m":0},{"v":9,"m":0},{"v":10,"m":1},{"v":11,"m":0},{"v":12,"m":0},{"v":13,"m":0},{"v":14,"m":0},{"v":15,"m":1},{"v":16,"m":0},{"v":17,"m":0},{"v":18,"m":0},{"v":19,"m":0},{"v":20,"m":1}],
"compass": [{"v":0,"lab":"N"},{"v":45,"lab":"NE"},{"v":90,"lab":"E"},{"v":135,"lab":"SE"},{"v":180,"lab":"S"},{"v":225,"lab":"SW"},{"v":270,"lab":"W"},{"v":315,"lab":"NW"},{"v":360,"lab":"N"}]
},
"hconcat": [
{"vconcat": [
  {"width": 146, "height": 4, "view": {"fill": "#9a9ab4"}, "data": {"values": [{}]}, "mark": {"type": "point", "opacity": 0}},
  {"width": 146, "height": 68, "view": {"fill": "#b6b6d0", "stroke": "#ffffff", "strokeWidth": 2},
   "title": {"text": "Time Span:\u00a0\u00a0\u00a0WEEK", "orient": "bottom", "anchor": "start", "offset": 10, "dx": -5, "font": "DejaVu Sans", "fontSize": 12, "fontWeight": "normal", "color": "#1c1c2c"},
   "data": {"values": [{"name": "Wind Speed", "line": 0}, {"name": "Barometer", "line": 1}, {"name": "Outside Temp", "line": 2}]},
   "mark": {"type": "text", "align": "left", "dx": 3, "font": "DejaVu Sans", "fontSize": 11.5, "color": "#36367c"},
   "encoding": {"x": {"datum": 0, "type": "quantitative", "scale": {"domain": [0, 1]}, "axis": null}, "y": {"field": "line", "type": "quantitative", "scale": {"domain": [-0.6, 3.4], "reverse": true}, "axis": null}, "text": {"field": "name"}}},
  {"width": 146, "height": 56, "data": {"values": [{}]}, "mark": {"type": "point", "opacity": 0}},
  {"width": 146, "height": 24, "data": {"name": "buttons"},
   "encoding": {"x": {"field": "b", "type": "nominal", "scale": {"type": "point", "domain": ["prev", "next", "plus", "minus"], "padding": 0.31}, "axis": null}},
   "layer": [
    {"transform": [{"filter": "datum.kind === 'arrow'"}], "mark": {"type": "point", "shape": "M -0.375 -0.6 L 0.375 -0.6 A 0.6 0.6 0 0 1 0.375 0.6 L -0.375 0.6 A 0.6 0.6 0 0 1 -0.375 -0.6 Z", "size": 1600, "filled": true, "fill": "#383838", "stroke": "#8c8c9c", "strokeWidth": 1, "opacity": 1}},
    {"transform": [{"filter": "datum.kind === 'arrow'"}], "mark": {"type": "point", "shape": "M -0.55 0 A 0.55 0.425 0 1 1 0.55 0 A 0.55 0.425 0 1 1 -0.55 0 Z", "size": 1600, "filled": true, "fill": "#1a5ea8", "xOffset": 6, "opacity": 1}},
    {"transform": [{"filter": "datum.b === 'prev'"}], "mark": {"type": "point", "shape": "M 0.25 -0.35 L 0.25 0.35 L -0.25 0 Z", "size": 1600, "filled": true, "fill": "#ffffff", "xOffset": 5, "opacity": 1}},
    {"transform": [{"filter": "datum.b === 'next'"}], "mark": {"type": "point", "shape": "M -0.25 -0.35 L -0.25 0.35 L 0.25 0 Z", "size": 1600, "filled": true, "fill": "#ffffff", "xOffset": 5, "opacity": 1}},
    {"transform": [{"filter": "datum.kind === 'box'"}], "mark": {"type": "point", "shape": "square", "size": 441, "filled": true, "fill": "#a9b8c2", "stroke": "#dfe6ea", "strokeWidth": 1, "opacity": 1}},
    {"transform": [{"filter": "datum.b === 'plus'"}], "mark": {"type": "point", "shape": "M -0.7 0 L 0.7 0 M 0 -0.7 L 0 0.7", "size": 400, "filled": false, "stroke": "#000000", "strokeWidth": 2, "opacity": 1}},
    {"transform": [{"filter": "datum.b === 'minus'"}], "mark": {"type": "point", "shape": "M -0.7 0 L 0.7 0", "size": 400, "filled": false, "stroke": "#000000", "strokeWidth": 2, "opacity": 1}}
   ]},
  {"width": 146, "height": 32, "data": {"values": [{}]}, "mark": {"type": "point", "opacity": 0}},
  {"width": 146, "height": 68, "view": {"fill": "#b6b6d0", "stroke": "#ffffff", "strokeWidth": 2},
   "title": {"text": "Time Span:\u00a0\u00a0\u00a08 HOURS", "orient": "bottom", "anchor": "start", "offset": 10, "dx": -5, "font": "DejaVu Sans", "fontSize": 12, "fontWeight": "normal", "color": "#1c1c2c"},
   "data": {"values": [{"name": "Wind Speed", "line": 0}, {"name": "Hi Wind Spd", "line": 1}]},
   "mark": {"type": "text", "align": "left", "dx": 3, "font": "DejaVu Sans", "fontSize": 11.5, "color": "#36367c"},
   "encoding": {"x": {"datum": 0, "type": "quantitative", "scale": {"domain": [0, 1]}, "axis": null}, "y": {"field": "line", "type": "quantitative", "scale": {"domain": [-0.6, 3.4], "reverse": true}, "axis": null}, "text": {"field": "name"}}},
  {"width": 146, "height": 56, "data": {"values": [{}]}, "mark": {"type": "point", "opacity": 0}},
  {"width": 146, "height": 24, "data": {"name": "buttons"},
   "encoding": {"x": {"field": "b", "type": "nominal", "scale": {"type": "point", "domain": ["prev", "next", "plus", "minus"], "padding": 0.31}, "axis": null}},
   "layer": [
    {"transform": [{"filter": "datum.kind === 'arrow'"}], "mark": {"type": "point", "shape": "M -0.375 -0.6 L 0.375 -0.6 A 0.6 0.6 0 0 1 0.375 0.6 L -0.375 0.6 A 0.6 0.6 0 0 1 -0.375 -0.6 Z", "size": 1600, "filled": true, "fill": "#383838", "stroke": "#8c8c9c", "strokeWidth": 1, "opacity": 1}},
    {"transform": [{"filter": "datum.kind === 'arrow'"}], "mark": {"type": "point", "shape": "M -0.55 0 A 0.55 0.425 0 1 1 0.55 0 A 0.55 0.425 0 1 1 -0.55 0 Z", "size": 1600, "filled": true, "fill": "#1a5ea8", "xOffset": 6, "opacity": 1}},
    {"transform": [{"filter": "datum.b === 'prev'"}], "mark": {"type": "point", "shape": "M 0.25 -0.35 L 0.25 0.35 L -0.25 0 Z", "size": 1600, "filled": true, "fill": "#ffffff", "xOffset": 5, "opacity": 1}},
    {"transform": [{"filter": "datum.b === 'next'"}], "mark": {"type": "point", "shape": "M -0.25 -0.35 L -0.25 0.35 L 0.25 0 Z", "size": 1600, "filled": true, "fill": "#ffffff", "xOffset": 5, "opacity": 1}},
    {"transform": [{"filter": "datum.kind === 'box'"}], "mark": {"type": "point", "shape": "square", "size": 441, "filled": true, "fill": "#a9b8c2", "stroke": "#dfe6ea", "strokeWidth": 1, "opacity": 1}},
    {"transform": [{"filter": "datum.b === 'plus'"}], "mark": {"type": "point", "shape": "M -0.7 0 L 0.7 0 M 0 -0.7 L 0 0.7", "size": 400, "filled": false, "stroke": "#000000", "strokeWidth": 2, "opacity": 1}},
    {"transform": [{"filter": "datum.b === 'minus'"}], "mark": {"type": "point", "shape": "M -0.7 0 L 0.7 0", "size": 400, "filled": false, "stroke": "#000000", "strokeWidth": 2, "opacity": 1}}
   ]},
  {"width": 146, "height": 33, "data": {"values": [{}]}, "mark": {"type": "point", "opacity": 0}},
  {"width": 146, "height": 68, "view": {"fill": "#b6b6d0", "stroke": "#ffffff", "strokeWidth": 2},
   "title": {"text": "Time Span:\u00a0\u00a0\u00a08 HOURS", "orient": "bottom", "anchor": "start", "offset": 10, "dx": -5, "font": "DejaVu Sans", "fontSize": 12, "fontWeight": "normal", "color": "#1c1c2c"},
   "data": {"values": [{"name": "Wind Direction", "line": 0}]},
   "mark": {"type": "text", "align": "left", "dx": 3, "font": "DejaVu Sans", "fontSize": 11.5, "color": "#36367c"},
   "encoding": {"x": {"datum": 0, "type": "quantitative", "scale": {"domain": [0, 1]}, "axis": null}, "y": {"field": "line", "type": "quantitative", "scale": {"domain": [-0.6, 3.4], "reverse": true}, "axis": null}, "text": {"field": "name"}}},
  {"width": 146, "height": 57, "data": {"values": [{}]}, "mark": {"type": "point", "opacity": 0}},
  {"width": 146, "height": 24, "data": {"name": "buttons"},
   "encoding": {"x": {"field": "b", "type": "nominal", "scale": {"type": "point", "domain": ["prev", "next", "plus", "minus"], "padding": 0.31}, "axis": null}},
   "layer": [
    {"transform": [{"filter": "datum.kind === 'arrow'"}], "mark": {"type": "point", "shape": "M -0.375 -0.6 L 0.375 -0.6 A 0.6 0.6 0 0 1 0.375 0.6 L -0.375 0.6 A 0.6 0.6 0 0 1 -0.375 -0.6 Z", "size": 1600, "filled": true, "fill": "#383838", "stroke": "#8c8c9c", "strokeWidth": 1, "opacity": 1}},
    {"transform": [{"filter": "datum.kind === 'arrow'"}], "mark": {"type": "point", "shape": "M -0.55 0 A 0.55 0.425 0 1 1 0.55 0 A 0.55 0.425 0 1 1 -0.55 0 Z", "size": 1600, "filled": true, "fill": "#1a5ea8", "xOffset": 6, "opacity": 1}},
    {"transform": [{"filter": "datum.b === 'prev'"}], "mark": {"type": "point", "shape": "M 0.25 -0.35 L 0.25 0.35 L -0.25 0 Z", "size": 1600, "filled": true, "fill": "#ffffff", "xOffset": 5, "opacity": 1}},
    {"transform": [{"filter": "datum.b === 'next'"}], "mark": {"type": "point", "shape": "M -0.25 -0.35 L -0.25 0.35 L 0.25 0 Z", "size": 1600, "filled": true, "fill": "#ffffff", "xOffset": 5, "opacity": 1}},
    {"transform": [{"filter": "datum.kind === 'box'"}], "mark": {"type": "point", "shape": "square", "size": 441, "filled": true, "fill": "#a9b8c2", "stroke": "#dfe6ea", "strokeWidth": 1, "opacity": 1}},
    {"transform": [{"filter": "datum.b === 'plus'"}], "mark": {"type": "point", "shape": "M -0.7 0 L 0.7 0 M 0 -0.7 L 0 0.7", "size": 400, "filled": false, "stroke": "#000000", "strokeWidth": 2, "opacity": 1}},
    {"transform": [{"filter": "datum.b === 'minus'"}], "mark": {"type": "point", "shape": "M -0.7 0 L 0.7 0", "size": 400, "filled": false, "stroke": "#000000", "strokeWidth": 2, "opacity": 1}}
   ]}
], "spacing": 0, "bounds": "flush"},

{"vconcat": [
  {"width": 598, "height": 147, "view": {"fill": "#b5b5cb", "stroke": "#ffffff", "strokeWidth": 1.5},
   "layer": [
    {"data": {"values": [{"t": "2017-03-28T00:00"}, {"t": "2017-03-29T00:00"}, {"t": "2017-03-30T00:00"}, {"t": "2017-03-31T00:00"}, {"t": "2017-04-01T00:00"}, {"t": "2017-04-02T00:00"}, {"t": "2017-04-03T00:00"}]},
     "mark": {"type": "rule", "stroke": "#2b2b66", "strokeDash": [4, 3], "strokeWidth": 1},
     "encoding": {"x": {"field": "t", "type": "temporal"}, "y": {"datum": 20, "type": "quantitative"}, "y2": {"datum": 60}}},
    {"data": {"values": [{"v": 30}, {"v": 40}, {"v": 50}, {"v": 60}]},
     "mark": {"type": "rule", "stroke": "#2b2b66", "strokeDash": [4, 3], "strokeWidth": 1},
     "encoding": {"y": {"field": "v", "type": "quantitative"}, "x": {"datum": {"year": 2017, "month": 3, "date": 27}, "type": "temporal"}, "x2": {"datum": {"year": 2017, "month": 4, "date": 3}}}},
    {"data": {"values": [{}]}, "mark": {"type": "rule", "stroke": "#2b2b66", "strokeWidth": 1.5},
     "encoding": {"y": {"datum": 20, "type": "quantitative"}, "x": {"datum": {"year": 2017, "month": 3, "date": 27}, "type": "temporal"}, "x2": {"datum": {"year": 2017, "month": 4, "date": 3}}}},
    {"data": {"values": [{}]}, "mark": {"type": "rule", "stroke": "#2b2b66", "strokeWidth": 1.5},
     "encoding": {"x": {"datum": {"year": 2017, "month": 3, "date": 27}, "type": "temporal"}, "y": {"datum": 20, "type": "quantitative"}, "y2": {"datum": 60}}},
    {"data": {"name": "top_ticks"}, "transform": [{"filter": "datum.m === 1"}],
     "mark": {"type": "tick", "orient": "horizontal", "size": 7, "thickness": 1, "xOffset": -3.5, "color": "#2b2b66", "opacity": 1},
     "encoding": {"x": {"datum": {"year": 2017, "month": 3, "date": 27}, "type": "temporal"}, "y": {"field": "v", "type": "quantitative"}}},
    {"data": {"name": "top_ticks"}, "transform": [{"filter": "datum.m === 0"}],
     "mark": {"type": "tick", "orient": "horizontal", "size": 4, "thickness": 1, "xOffset": -2, "color": "#2b2b66", "opacity": 1},
     "encoding": {"x": {"datum": {"year": 2017, "month": 3, "date": 27}, "type": "temporal"}, "y": {"field": "v", "type": "quantitative"}}},
    {"data": {"name": "top_ticks"}, "transform": [{"filter": "datum.m === 1"}],
     "mark": {"type": "text", "align": "right", "baseline": "middle", "dx": -14, "font": "DejaVu Sans", "fontSize": 13, "color": "#2c2c5e"},
     "encoding": {"x": {"datum": {"year": 2017, "month": 3, "date": 27}, "type": "temporal"}, "y": {"field": "v", "type": "quantitative"}, "text": {"field": "v", "type": "quantitative"}}},
    {"data": {"name": "wk_wind"}, "mark": {"type": "area", "color": "#000000", "stroke": "#000000", "strokeWidth": 1},
     "encoding": {
      "x": {"field": "t", "type": "temporal", "scale": {"domain": [{"year": 2017, "month": 3, "date": 26, "hours": 7, "minutes": 46}, {"year": 2017, "month": 4, "date": 3, "hours": 6, "minutes": 3}], "nice": false},
            "axis": {"title": null, "orient": "bottom", "offset": -30, "values": [{"year": 2017, "month": 3, "date": 27, "hours": 12}, {"year": 2017, "month": 3, "date": 28, "hours": 12}, {"year": 2017, "month": 3, "date": 29, "hours": 12}, {"year": 2017, "month": 3, "date": 30, "hours": 12}, {"year": 2017, "month": 3, "date": 31, "hours": 12}, {"year": 2017, "month": 4, "date": 1, "hours": 12}, {"year": 2017, "month": 4, "date": 2, "hours": 12}], "format": "%a", "ticks": false, "tickSize": 0, "labelPadding": 8, "labelOverlap": false}},
      "y": {"field": "w", "type": "quantitative", "scale": {"domain": [9.29, 61.79], "nice": false, "zero": false},
            "axis": {"title": null, "labels": false, "ticks": false, "domain": false, "grid": false}},
      "y2": {"datum": 20}}},
    {"data": {"name": "wk_baro"}, "mark": {"type": "line", "color": "#0b7070", "strokeWidth": 2},
     "encoding": {"x": {"field": "t", "type": "temporal"}, "y": {"field": "v", "type": "quantitative"}, "detail": {"field": "s"}, "strokeWidth": {"condition": {"test": "datum.s === 'gap'", "value": 1}, "value": 2}}},
    {"data": {"name": "wk_temp"}, "mark": {"type": "line", "color": "#ffff1a", "strokeWidth": 2.5},
     "encoding": {"x": {"field": "t", "type": "temporal"}, "y": {"field": "v", "type": "quantitative"}}}
   ]},
  {"width": 598, "height": 21, "view": {"fill": "#9898b3", "stroke": "#6e6e8a", "strokeWidth": 1.5},
   "data": {"values": [{"label": "Top Chart:\u00a0 Mar 27, 2017\u00a0 to\u00a0 Apr 2, 2017"}]},
   "mark": {"type": "text", "font": "DejaVu Sans", "fontSize": 12.5, "color": "#111111"},
   "encoding": {"text": {"field": "label"}}},
  {"width": 598, "height": 150, "view": {"fill": "#b5b5cb", "stroke": "#ffffff", "strokeWidth": 1.5},
   "layer": [
    {"data": {"values": [{"t": "2017-04-02T10:00"}, {"t": "2017-04-02T11:00"}, {"t": "2017-04-02T12:00"}, {"t": "2017-04-02T13:00"}, {"t": "2017-04-02T14:00"}, {"t": "2017-04-02T15:00"}, {"t": "2017-04-02T16:00"}, {"t": "2017-04-02T17:00"}]},
     "mark": {"type": "rule", "stroke": "#2b2b66", "strokeDash": [4, 3], "strokeWidth": 1},
     "encoding": {"x": {"field": "t", "type": "temporal"}, "y": {"datum": 0, "type": "quantitative"}, "y2": {"datum": 20}}},
    {"data": {"values": [{"v": 5}, {"v": 10}, {"v": 15}, {"v": 20}]},
     "mark": {"type": "rule", "stroke": "#2b2b66", "strokeDash": [4, 3], "strokeWidth": 1},
     "encoding": {"y": {"field": "v", "type": "quantitative"}, "x": {"datum": {"year": 2017, "month": 4, "date": 2, "hours": 9}, "type": "temporal"}, "x2": {"datum": {"year": 2017, "month": 4, "date": 2, "hours": 17}}}},
    {"data": {"values": [{}]}, "mark": {"type": "rule", "stroke": "#2b2b66", "strokeWidth": 1.5},
     "encoding": {"y": {"datum": 0, "type": "quantitative"}, "x": {"datum": {"year": 2017, "month": 4, "date": 2, "hours": 9}, "type": "temporal"}, "x2": {"datum": {"year": 2017, "month": 4, "date": 2, "hours": 17}}}},
    {"data": {"values": [{}]}, "mark": {"type": "rule", "stroke": "#2b2b66", "strokeWidth": 1.5},
     "encoding": {"x": {"datum": {"year": 2017, "month": 4, "date": 2, "hours": 9}, "type": "temporal"}, "y": {"datum": 0, "type": "quantitative"}, "y2": {"datum": 20}}},
    {"data": {"name": "mid_ticks"}, "transform": [{"filter": "datum.m === 1"}],
     "mark": {"type": "tick", "orient": "horizontal", "size": 7, "thickness": 1, "xOffset": -3.5, "color": "#2b2b66", "opacity": 1},
     "encoding": {"x": {"datum": {"year": 2017, "month": 4, "date": 2, "hours": 9}, "type": "temporal"}, "y": {"field": "v", "type": "quantitative"}}},
    {"data": {"name": "mid_ticks"}, "transform": [{"filter": "datum.m === 0"}],
     "mark": {"type": "tick", "orient": "horizontal", "size": 4, "thickness": 1, "xOffset": -2, "color": "#2b2b66", "opacity": 1},
     "encoding": {"x": {"datum": {"year": 2017, "month": 4, "date": 2, "hours": 9}, "type": "temporal"}, "y": {"field": "v", "type": "quantitative"}}},
    {"data": {"name": "mid_ticks"}, "transform": [{"filter": "datum.m === 1"}],
     "mark": {"type": "text", "align": "right", "baseline": "middle", "dx": -15, "font": "DejaVu Sans", "fontSize": 13, "color": "#2c2c5e"},
     "encoding": {"x": {"datum": {"year": 2017, "month": 4, "date": 2, "hours": 9}, "type": "temporal"}, "y": {"field": "v", "type": "quantitative"}, "text": {"field": "v", "type": "quantitative"}}},
    {"data": {"name": "day"}, "mark": {"type": "line", "color": "#000000", "strokeWidth": 2},
     "encoding": {
      "x": {"field": "t", "type": "temporal", "scale": {"domain": [{"year": 2017, "month": 4, "date": 2, "hours": 8, "minutes": 17, "seconds": 36}, {"year": 2017, "month": 4, "date": 2, "hours": 17, "minutes": 17, "seconds": 9}], "nice": false},
            "axis": {"title": null, "orient": "bottom", "offset": -31, "values": [{"year": 2017, "month": 4, "date": 2, "hours": 9}, {"year": 2017, "month": 4, "date": 2, "hours": 11}, {"year": 2017, "month": 4, "date": 2, "hours": 13}, {"year": 2017, "month": 4, "date": 2, "hours": 15}, {"year": 2017, "month": 4, "date": 2, "hours": 17}], "labelExpr": "lower(timeFormat(datum.value, '%-I:%M %p'))", "ticks": false, "tickSize": 0, "labelPadding": 13, "labelOverlap": false}},
      "y": {"field": "w", "type": "quantitative", "scale": {"domain": [-5.5, 21.43], "nice": false, "zero": false},
            "axis": {"title": null, "labels": false, "ticks": false, "domain": false, "grid": false}}}},
    {"data": {"name": "day"}, "mark": {"type": "line", "color": "#ff1744", "strokeWidth": 2},
     "encoding": {"x": {"field": "t", "type": "temporal"}, "y": {"field": "h", "type": "quantitative"}}}
   ]},
  {"width": 598, "height": 21, "view": {"fill": "#9898b3", "stroke": "#6e6e8a", "strokeWidth": 1.5},
   "data": {"values": [{"label": "Middle Chart:\u00a0 Apr 2, 2017 - 9:00 AM\u00a0 to\u00a0 5:00 PM"}]},
   "mark": {"type": "text", "font": "DejaVu Sans", "fontSize": 12, "color": "#111111"},
   "encoding": {"text": {"field": "label"}}},
  {"width": 598, "height": 146, "view": {"fill": "#b5b5cb", "stroke": "#ffffff", "strokeWidth": 1.5},
   "layer": [
    {"data": {"values": [{"t": "2017-04-02T10:00"}, {"t": "2017-04-02T11:00"}, {"t": "2017-04-02T12:00"}, {"t": "2017-04-02T13:00"}, {"t": "2017-04-02T14:00"}, {"t": "2017-04-02T15:00"}, {"t": "2017-04-02T16:00"}, {"t": "2017-04-02T17:00"}]},
     "mark": {"type": "rule", "stroke": "#2b2b66", "strokeDash": [4, 3], "strokeWidth": 1},
     "encoding": {"x": {"field": "t", "type": "temporal"}, "y": {"datum": 0, "type": "quantitative"}, "y2": {"datum": 360}}},
    {"data": {"values": [{"v": 45}, {"v": 90}, {"v": 135}, {"v": 180}, {"v": 225}, {"v": 270}, {"v": 315}, {"v": 360}]},
     "mark": {"type": "rule", "stroke": "#2b2b66", "strokeDash": [4, 3], "strokeWidth": 1},
     "encoding": {"y": {"field": "v", "type": "quantitative"}, "x": {"datum": {"year": 2017, "month": 4, "date": 2, "hours": 9}, "type": "temporal"}, "x2": {"datum": {"year": 2017, "month": 4, "date": 2, "hours": 17}}}},
    {"data": {"values": [{}]}, "mark": {"type": "rule", "stroke": "#2b2b66", "strokeWidth": 1.5},
     "encoding": {"y": {"datum": 0, "type": "quantitative"}, "x": {"datum": {"year": 2017, "month": 4, "date": 2, "hours": 9}, "type": "temporal"}, "x2": {"datum": {"year": 2017, "month": 4, "date": 2, "hours": 17}}}},
    {"data": {"values": [{}]}, "mark": {"type": "rule", "stroke": "#2b2b66", "strokeWidth": 1.5},
     "encoding": {"x": {"datum": {"year": 2017, "month": 4, "date": 2, "hours": 9}, "type": "temporal"}, "y": {"datum": 0, "type": "quantitative"}, "y2": {"datum": 360}}},
    {"data": {"name": "compass"},
     "mark": {"type": "tick", "orient": "horizontal", "size": 8, "thickness": 1, "xOffset": -4, "color": "#2b2b66", "opacity": 1},
     "encoding": {"x": {"datum": {"year": 2017, "month": 4, "date": 2, "hours": 9}, "type": "temporal"}, "y": {"field": "v", "type": "quantitative"}}},
    {"data": {"name": "compass"},
     "mark": {"type": "text", "align": "left", "baseline": "middle", "dx": -34, "font": "DejaVu Sans", "fontSize": 11.5, "color": "#2c2c5e"},
     "encoding": {"x": {"datum": {"year": 2017, "month": 4, "date": 2, "hours": 9}, "type": "temporal"}, "y": {"field": "v", "type": "quantitative"}, "text": {"field": "lab"}}},
    {"data": {"name": "dir"}, "mark": {"type": "line", "color": "#ffffff", "strokeWidth": 1.6},
     "encoding": {
      "x": {"field": "t", "type": "temporal", "scale": {"domain": [{"year": 2017, "month": 4, "date": 2, "hours": 8, "minutes": 17, "seconds": 36}, {"year": 2017, "month": 4, "date": 2, "hours": 17, "minutes": 17, "seconds": 9}], "nice": false},
            "axis": {"title": null, "orient": "bottom", "offset": -32, "values": [{"year": 2017, "month": 4, "date": 2, "hours": 9}, {"year": 2017, "month": 4, "date": 2, "hours": 11}, {"year": 2017, "month": 4, "date": 2, "hours": 13}, {"year": 2017, "month": 4, "date": 2, "hours": 15}, {"year": 2017, "month": 4, "date": 2, "hours": 17}], "labelExpr": "lower(timeFormat(datum.value, '%-I:%M %p'))", "ticks": false, "tickSize": 0, "labelPadding": 12, "labelOverlap": false}},
      "y": {"field": "d", "type": "quantitative", "scale": {"domain": [-108.7, 387.2], "nice": false, "zero": false},
            "axis": {"title": null, "labels": false, "ticks": false, "domain": false, "grid": false}},
      "detail": {"field": "s"}}}
   ]},
  {"width": 598, "height": 21, "view": {"fill": "#9898b3", "stroke": "#6e6e8a", "strokeWidth": 1.5},
   "data": {"values": [{"label": "Bottom Chart:\u00a0 Apr 2, 2017 - 9:00 AM\u00a0 to\u00a0 5:00 PM"}]},
   "mark": {"type": "text", "font": "DejaVu Sans", "fontSize": 12, "color": "#111111"},
   "encoding": {"text": {"field": "label"}}}
], "spacing": 5, "bounds": "flush"}
],
"spacing": 19
}
